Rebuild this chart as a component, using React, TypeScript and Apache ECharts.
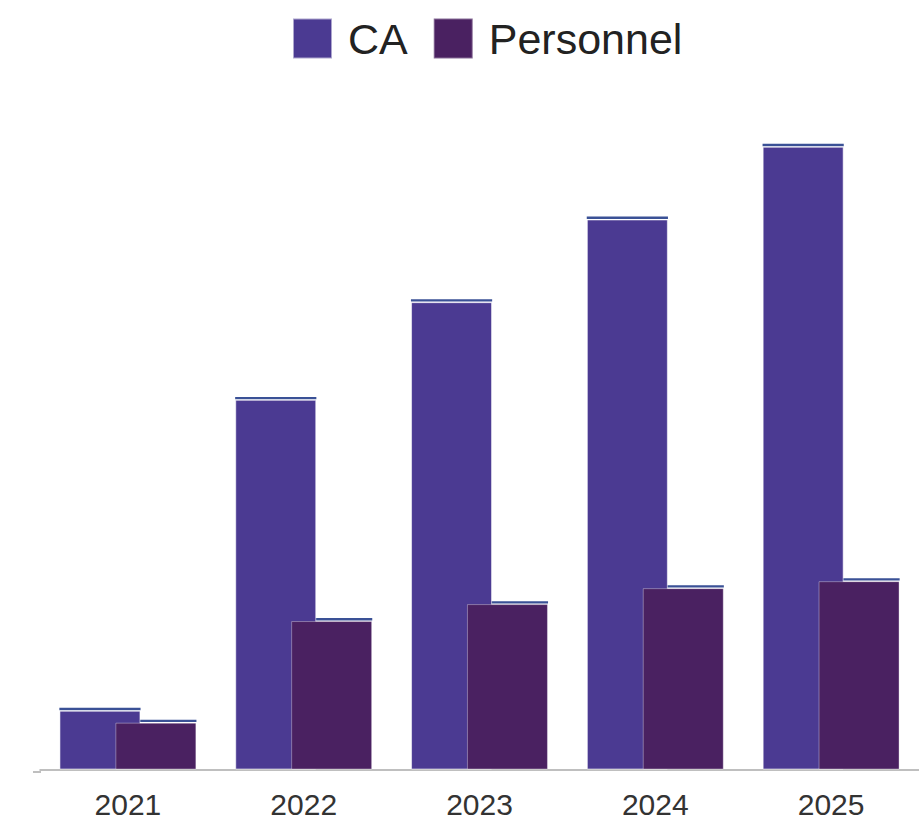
import React, { useEffect, useRef } from "react";
import * as echarts from "echarts";

const years = ["2021", "2022", "2023", "2024", "2025"];
const caValues = [59, 371, 469, 552, 625];
const personnelValues = [47, 149, 166, 182, 189];
const seriesNames = ["CA", "Personnel"];

const CA_COLOR = "#4b3a92";
const PERS_COLOR = "#4a2161";
const TOP_LINE = "#3a5196";
const FONT = "'Liberation Sans', Arial, sans-serif";

export default function App() {
  const ref = useRef<HTMLDivElement>(null);
  useEffect(() => {
    document.body.style.margin = "0";
    document.body.style.overflow = "hidden";
    const chart = echarts.init(ref.current!, null, { renderer: "svg" });
    const barCommon = {
      type: "bar" as const,
      barWidth: 81,
      barGap: "-31%",
    };
    const topCommon = {
      type: "pictorialBar" as const,
      symbol: "rect",
      symbolSize: [81, 2.5],
      symbolPosition: "end",
      symbolOffset: [0, -3],
      barWidth: 81,
      barGap: "-31%",
      itemStyle: { color: TOP_LINE },
      silent: true,
    };
    chart.setOption({
      animation: false,
      legend: {
        data: seriesNames,
        left: 287,
        top: 12,
        itemWidth: 39,
        itemHeight: 40,
        itemGap: 25,
        icon: "rect",
        textStyle: {
          fontSize: 43,
          fontFamily: FONT,
          color: "#222",
          padding: [6, 0, 0, 11],
        },
      },
      graphic: [
        {
          type: "line",
          shape: { x1: 33, y1: 772, x2: 41, y2: 772 },
          style: { stroke: "#aaaaaa", lineWidth: 1.5 },
        },
      ],
      grid: { left: 40, width: 885, top: 72, height: 700 },
      xAxis: {
        type: "category",
        data: years,
        axisLine: { lineStyle: { color: "#aaaaaa", width: 1.5 } },
        axisTick: { show: false },
        axisLabel: {
          fontSize: 30,
          lineHeight: 24,
          fontFamily: FONT,
          color: "#333",
          margin: 22.5,
        },
      },
      yAxis: {
        type: "value",
        min: 0,
        max: 700,
        show: false,
        splitLine: { show: false },
      },
      series: [
        {
          ...barCommon,
          name: "CA",
          data: caValues,
          itemStyle: {
            color: CA_COLOR,
            borderColor: "rgba(255,255,255,0.55)",
            borderWidth: 1,
          },
        },
        {
          ...barCommon,
          name: "Personnel",
          data: personnelValues,
          itemStyle: {
            color: PERS_COLOR,
            borderColor: "rgba(255,255,255,0.35)",
            borderWidth: 1,
          },
        },
        { ...topCommon, name: "CA top", data: caValues },
        { ...topCommon, name: "Personnel top", data: personnelValues },
      ],
    });
    return () => chart.dispose();
  }, []);
  return (
    <div
      style={{
        position: "absolute",
        left: 0,
        top: 0,
        width: 919,
        height: 819,
        overflow: "hidden",
      }}
    >
      <div ref={ref} style={{ width: 919, height: 819 }} />
    </div>
  );
}
